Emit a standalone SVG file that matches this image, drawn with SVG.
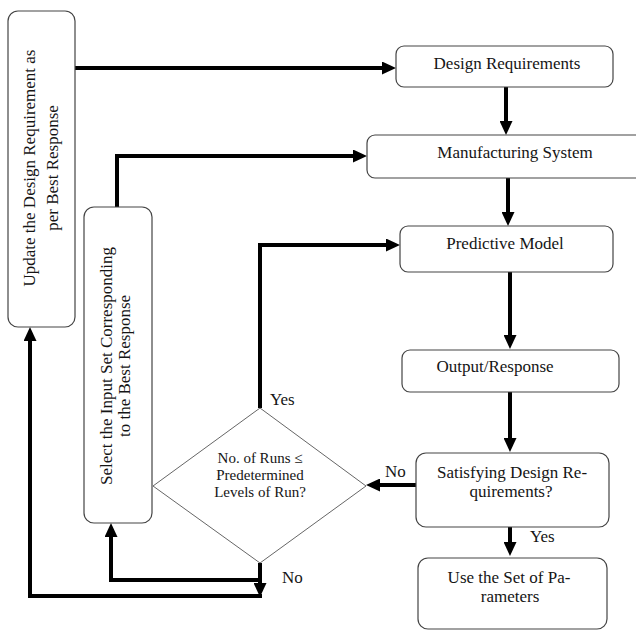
<svg xmlns="http://www.w3.org/2000/svg" width="636" height="630" viewBox="0 0 636 630">
<defs>
<style>
.box{fill:#fff;stroke:#444;stroke-width:1.2}
.dia{fill:#fff;stroke:#666;stroke-width:1}
.t{font-family:"Liberation Serif","Times New Roman",serif;font-size:17px;fill:#151515;text-anchor:middle}
.ts{font-family:"Liberation Serif","Times New Roman",serif;font-size:15px;fill:#151515;text-anchor:middle}
.lb{font-family:"Liberation Serif","Times New Roman",serif;font-size:17px;fill:#151515}
.c{fill:none;stroke:#000;stroke-width:4}
</style>
<marker id="ah" markerUnits="userSpaceOnUse" markerWidth="14" markerHeight="13" refX="6" refY="6.5" orient="auto">
<path d="M0,0 L14,6.5 L0,13 z" fill="#000"/>
</marker>
</defs>
<rect width="636" height="630" fill="#fff"/>
<g id="connectors">
<path class="c" d="M75,68 H388" marker-end="url(#ah)"/>
<path class="c" d="M506,87 V127" marker-end="url(#ah)"/>
<path class="c" d="M508,178 V218" marker-end="url(#ah)"/>
<path class="c" d="M510,272 V341" marker-end="url(#ah)"/>
<path class="c" d="M510,392 V444" marker-end="url(#ah)"/>
<path class="c" d="M510,527 V548" marker-end="url(#ah)"/>
<path class="c" d="M416,485 H374" marker-end="url(#ah)"/>
<path class="c" d="M117,207 V156 H359" marker-end="url(#ah)"/>
<path class="c" d="M260,408 V245 H392" marker-end="url(#ah)"/>
<path class="c" d="M260,563 V580 H111 V531" marker-end="url(#ah)"/>
<path class="c" d="M260,578 V589" marker-end="url(#ah)"/>
<path class="c" d="M262,596 H30 V335" marker-end="url(#ah)"/>
</g>
<g id="update">
<rect class="box" x="8" y="11" width="67" height="316" rx="10"/>
<text class="t" transform="translate(35,168) rotate(-90)">Update the Design Requirement as</text>
<text class="t" transform="translate(58,168) rotate(-90)">per Best Response</text>
</g>
<g id="select">
<rect class="box" x="84" y="207" width="68" height="316" rx="10"/>
<text class="t" transform="translate(112,366) rotate(-90)">Select the Input Set Corresponding</text>
<text class="t" transform="translate(130,366) rotate(-90)">to the Best Response</text>
</g>
<g id="design">
<rect class="box" x="396" y="46" width="217" height="41" rx="8"/>
<text class="t" x="507" y="69">Design Requirements</text>
</g>
<g id="manufacturing">
<rect class="box" x="367" y="135" width="280" height="43" rx="8"/>
<text class="t" x="515" y="158">Manufacturing System</text>
</g>
<g id="predictive">
<rect class="box" x="400" y="226" width="213" height="46" rx="8"/>
<text class="t" x="505" y="249">Predictive Model</text>
</g>
<g id="output">
<rect class="box" x="402" y="350" width="217" height="42" rx="8"/>
<text class="t" x="495" y="372">Output/Response</text>
</g>
<g id="satisfying">
<rect class="box" x="416" y="453" width="193" height="74" rx="10"/>
<text class="t" x="512" y="478">Satisfying Design Re-</text>
<text class="t" x="511" y="497">quirements?</text>
</g>
<g id="use">
<rect class="box" x="418" y="558" width="189" height="71" rx="10"/>
<text class="t" x="509" y="583">Use the Set of Pa-</text>
<text class="t" x="510" y="602">rameters</text>
</g>
<g id="runs">
<polygon class="dia" points="260,408 366,486 260,563 153,486"/>
<text class="ts" x="260" y="463">No. of Runs ≤</text>
<text class="ts" x="260" y="480">Predetermined</text>
<text class="ts" x="260" y="497">Levels of Run?</text>
</g>
<g id="labels">
<text class="lb" x="270" y="405">Yes</text>
<text class="lb" x="282" y="583">No</text>
<text class="lb" x="385" y="477">No</text>
<text class="lb" x="530" y="542">Yes</text>
</g>
</svg>
